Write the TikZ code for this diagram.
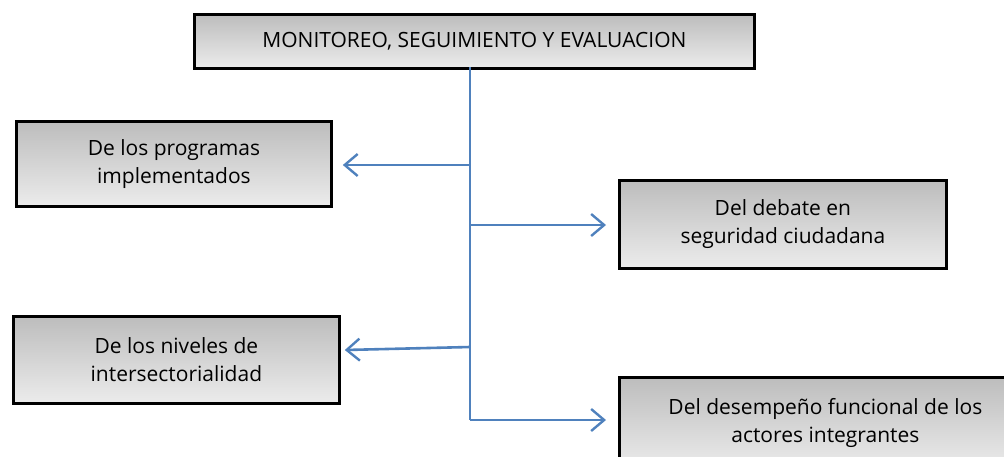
\documentclass[tikz,border=0pt]{standalone}
\usepackage{fontspec}
\setmainfont{Open Sans}
\usetikzlibrary{arrows.meta}
\definecolor{lineblue}{HTML}{4F81BD}
\begin{document}
\begin{tikzpicture}[x=1pt,y=-1pt,
  boxstyle/.style={draw=black, line width=2.8pt, top color=gray!52, bottom color=gray!15,
    align=center, inner sep=0pt, font=\fontsize{21}{28}\selectfont},
  conn/.style={draw=lineblue, line width=2.6pt},
  arr/.style={conn, -{Straight Barb[length=13pt,width=22pt,line width=2.4pt]}}]
\useasboundingbox (0,0) rectangle (1004,456);
\node[boxstyle, minimum width=560pt, minimum height=54pt, anchor=north west] (top) at (193,13) {\raisebox{4pt}{MONITOREO, SEGUIMIENTO Y EVALUACION}};
\node[boxstyle, minimum width=315pt, minimum height=85pt, anchor=north west] (b1) at (15,120) {De los programas\\implementados};
\node[boxstyle, minimum width=327pt, minimum height=88pt, anchor=north west] (b2) at (618,179) {Del debate en\\seguridad ciudadana};
\node[boxstyle, minimum width=326pt, minimum height=87pt, anchor=north west] (b3) at (12,315) {De los niveles de\\intersectorialidad};
\node[boxstyle, minimum width=412pt, minimum height=92pt, anchor=north west] (b4) at (618,376) {Del desempeño funcional de los\\actores integrantes};
\coordinate (c0) at (470,67);
\coordinate (c1) at (470,165);
\coordinate (c2) at (470,225);
\coordinate (c3) at (470,347);
\coordinate (c4) at (470,420);
\draw[conn] (c0) -- (c4);
\draw[arr] (c1) -- ([xshift=10pt]b1.east |- c1);
\draw[arr] (c2) -- ([xshift=-12pt]b2.west |- c2);
\draw[arr] (c3) -- ([xshift=4pt,yshift=-3pt]b3.east |- c3);
\draw[arr] (c4) -- ([xshift=-12pt]b4.west |- c4);
\end{tikzpicture}
\end{document}
